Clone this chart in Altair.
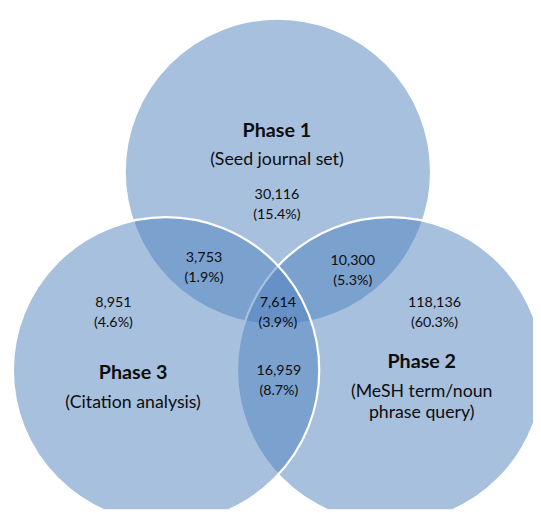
import altair as alt
import pandas as pd

# Circles (image pixel coordinates)
circle_name = ["Phase 1", "Phase 2", "Phase 3"]
circle_x = [282, 396, 168.5]
circle_y = [170.5, 372, 372]
circle_r = [155.5, 155.5, 155.5]

# Region counts / shares
count_text = ["30,116", "3,753", "10,300", "7,614", "8,951", "118,136", "16,959"]
share_text = ["(15.4%)", "(1.9%)", "(5.3%)", "(3.9%)", "(4.6%)", "(60.3%)", "(8.7%)"]
count_x = [281, 207, 358, 282, 115, 441, 283]
count_y = [194, 258, 261, 304, 304, 304, 373]

# Set titles and descriptions
title_text = ["Phase 1", "Phase 2", "Phase 3"]
title_x = [281, 428, 135]
title_y = [129, 364, 375]
desc_text = [["(Seed journal set)"], ["(MeSH term/noun", "phrase query)"], ["(Citation analysis)"]]
desc_x = [281, 428, 135]
desc_y = [161, 396, 407]

FONT = "Lato"
W, H = 533, 505
xs = alt.Scale(domain=[8, 8 + W])
ys = alt.Scale(domain=[8 + H, 8])

circles = pd.DataFrame({
    "name": circle_name, "x": circle_x, "y": circle_y,
    "size": [(2 * r) ** 2 for r in circle_r],
})

layers = []
for i in range(len(circles)):
    layers.append(
        alt.Chart(circles.iloc[[i]]).mark_point(
            shape="circle", filled=True, fill="#4F81BD", fillOpacity=0.5,
            stroke="white", strokeWidth=2.2, strokeOpacity=1, opacity=1, clip=True,
        ).encode(
            x=alt.X("x:Q", scale=xs, axis=None),
            y=alt.Y("y:Q", scale=ys, axis=None),
            size=alt.Size("size:Q", scale=None, legend=None),
        )
    )

counts = pd.DataFrame({"x": count_x, "y": count_y, "t": count_text})
shares = pd.DataFrame({"x": count_x, "y": [v + 20 for v in count_y], "t": share_text})
titles = pd.DataFrame({"x": title_x, "y": title_y, "t": title_text})

def text_layer(df, size, weight="normal", line_height=None):
    kw = dict(font=FONT, fontSize=size, fontWeight=weight, color="#0d0d0d",
              align="center", baseline="middle")
    if line_height:
        kw["lineHeight"] = line_height
        kw["baseline"] = "top"
    return alt.Chart(df).mark_text(**kw).encode(
        x=alt.X("x:Q", scale=xs, axis=None),
        y=alt.Y("y:Q", scale=ys, axis=None),
        text="t",
    )

layers.append(text_layer(counts, 14.5))
layers.append(text_layer(shares, 14.5))
layers.append(text_layer(titles, 20, "bold"))
descs2 = pd.DataFrame({"x": desc_x, "y": [v - 11 for v in desc_y], "t": desc_text})
layers.append(text_layer(descs2, 18, line_height=21.5))

chart = alt.layer(*layers).properties(
    width=W, height=H, padding=0, autosize=alt.AutoSizeParams(type="none"),
).configure_view(stroke=None)

chart.save("out.html", embed_options={"renderer": "svg", "actions": False})
